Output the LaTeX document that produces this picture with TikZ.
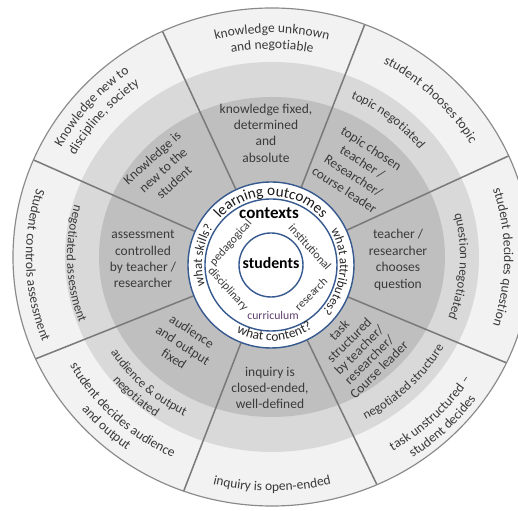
\documentclass[tikz,border=0pt]{standalone}
\usepackage{fontspec}
\setmainfont{Carlito}
\usetikzlibrary{decorations.text}

\definecolor{ringout}{HTML}{F2F2F2}
\definecolor{ringmid}{HTML}{D9D9D9}
\definecolor{ringin}{HTML}{BFBFBF}
\definecolor{rim}{HTML}{8A8A8A}
\definecolor{spokegray}{HTML}{7A7A7A}
\definecolor{hubblue}{HTML}{36598F}
\definecolor{txt}{HTML}{3A3A3A}
\definecolor{curr}{HTML}{5E3F6E}

\newcommand{\lbl}{\fontsize{11.5}{14}\selectfont\color{txt}}
\newcommand{\midlbl}{\fontsize{11}{13}\selectfont\color{txt}}
\newcommand{\hubbig}{\fontsize{13}{15}\selectfont\color{black!90}}
\newcommand{\hubfont}{\fontsize{11}{13}\selectfont\color{black!85}}

% curved labels: font, mid angle, half span, x radius, y radius, text
\newcommand{\cwtext}[6]{\path[decorate,decoration={text along path,text align=center,text={|#1|#6}}]
  (#2+#3:#4 and #5) arc[start angle=#2+#3,end angle=#2-#3,x radius=#4,y radius=#5];}
\newcommand{\ccwtext}[6]{\path[decorate,decoration={text along path,text align=center,text={|#1|#6}}]
  (#2-#3:#4 and #5) arc[start angle=#2-#3,end angle=#2+#3,x radius=#4,y radius=#5];}

\begin{document}
\begin{tikzpicture}[x=0.03cm,y=0.03cm,
    spoke/.style={draw=spokegray,line width=1.3pt},
    hubline/.style={draw=hubblue,line width=1.2pt},
    inlbl/.style={font=\lbl,align=center,inner sep=0pt}]
  \useasboundingbox (-272,-254) rectangle (246,257);
  \clip (-272,-254) rectangle (246,257);
  \coordinate (hub) at (-1,-8);

  % rings
  \fill[ringout] (0,0) ellipse [x radius=259,y radius=249];
  \fill[ringmid] (0,0) ellipse [x radius=207,y radius=195];
  \fill[ringin] (0,0) ellipse [x radius=173,y radius=160];

  % spokes
  \begin{scope}
    \clip (0,0) ellipse [x radius=259,y radius=249];
    \draw[spoke] (hub) -- (24:275 and 265);
    \draw[spoke] (hub) -- (69:275 and 265);
    \draw[spoke] (hub) -- (115:275 and 265);
    \draw[spoke] (hub) -- (157:275 and 265);
    \draw[spoke] (hub) -- (204:275 and 265);
    \draw[spoke] (hub) -- (250:275 and 265);
    \draw[spoke] (hub) -- (294:275 and 265);
    \draw[spoke] (hub) -- (335:275 and 265);
  \end{scope}
  \draw[rim,line width=1pt] (0,0) ellipse [x radius=259,y radius=249];

  % outer ring
  \cwtext{\lbl}{90}{70}{234}{224}{knowledge unknown}
  \cwtext{\lbl}{90}{70}{218}{208}{and negotiable}
  \cwtext{\lbl}{45}{70}{231}{221}{student chooses topic}
  \cwtext{\lbl}{0}{70}{232}{222}{student decides question}
  \ccwtext{\lbl}{-45}{70}{236}{226}{task unstructured {\textendash}}
  \ccwtext{\lbl}{-45}{70}{252}{242}{student decides}
  \ccwtext{\lbl}{-90}{70}{244}{234}{inquiry is open-ended}
  \ccwtext{\lbl}{226}{70}{232}{222}{student decides audience}
  \ccwtext{\lbl}{226}{70}{248}{238}{and output}
  \ccwtext{\lbl}{182}{70}{246}{236}{Student controls assessment}
  \cwtext{\lbl}{140}{70}{240}{229}{Knowledge new to}
  \cwtext{\lbl}{140}{70}{224}{213}{discipline, society}

  % middle ring
  \cwtext{\midlbl}{50}{70}{187}{175}{topic negotiated}
  \cwtext{\midlbl}{-3}{70}{188}{176}{question negotiated}
  \ccwtext{\midlbl}{-44}{70}{197}{185}{negotiated structure}
  \ccwtext{\midlbl}{226}{70}{191}{179}{audience {\&} output}
  \ccwtext{\midlbl}{226}{70}{206}{194}{negotiated}
  \ccwtext{\midlbl}{182}{70}{205}{193}{negotiated assessment}

  % inner ring
  \node[inlbl] (fixed) at (-6,124) {knowledge fixed,\\determined\\and\\absolute};
  \node[inlbl,rotate=-33] (chosen) at (86,88) {topic chosen\\teacher /\\Researcher/\\course leader};
  \node[inlbl] (chooses) at (126,-3) {teacher /\\researcher\\chooses\\question};
  \node[inlbl,font=\fontsize{11.5}{12}\selectfont\color{txt},rotate=45] (structured) at (87,-93) {task\\structured\\by teacher/\\researcher/\\Course leader};
  \node[inlbl] (closed) at (-2,-131) {inquiry is\\closed-ended,\\well-defined};
  \node[inlbl,rotate=-33] (fixedout) at (-89,-88) {audience\\and output\\fixed};
  \node[inlbl] (controlled) at (-129,-2) {assessment\\controlled\\by teacher /\\researcher};
  \node[inlbl,rotate=42] (newstudent) at (-109,87) {Knowledge is\\new to the\\student};

  % hub
  \fill[white] (hub) circle (83);
  \draw[hubline] (hub) circle (83);
  \draw[hubline] (hub) circle (66);
  \draw[hubline] (hub) circle (32);
  \begin{scope}[shift={(hub)}]
    \cwtext{\hubbig}{90}{85}{69}{69}{learning outcomes}
    \cwtext{\hubfont}{172}{80}{69}{69}{what skills?}
    \cwtext{\hubfont}{-6}{80}{69}{69}{what attributes?}
    \ccwtext{\fontsize{11.5}{13}\selectfont\color{black!85}}{-87}{80}{76}{76}{what content?}
    \node[font=\fontsize{14.5}{16}\selectfont\bfseries] (contexts) at (-2,52) {contexts};
    \node[font=\fontsize{13.5}{15}\selectfont\bfseries] (students) at (0,2) {students};
    \node[font=\fontsize{10}{12}\selectfont\color{txt},rotate=48] (pedagogical) at (-40,22) {pedagogical};
    \node[font=\fontsize{10}{12}\selectfont\color{txt},rotate=-48] (disciplinary) at (-43,-24) {disciplinary};
    \node[font=\fontsize{10}{12}\selectfont\color{txt},rotate=-48] (institutional) at (39,18) {institutional};
    \node[font=\fontsize{10}{12}\selectfont\color{txt},rotate=45] (research) at (40,-29) {research};
    \node[font=\fontsize{10}{12}\selectfont\color{curr}] (curriculum) at (2,-50) {curriculum};
  \end{scope}
\end{tikzpicture}
\end{document}
